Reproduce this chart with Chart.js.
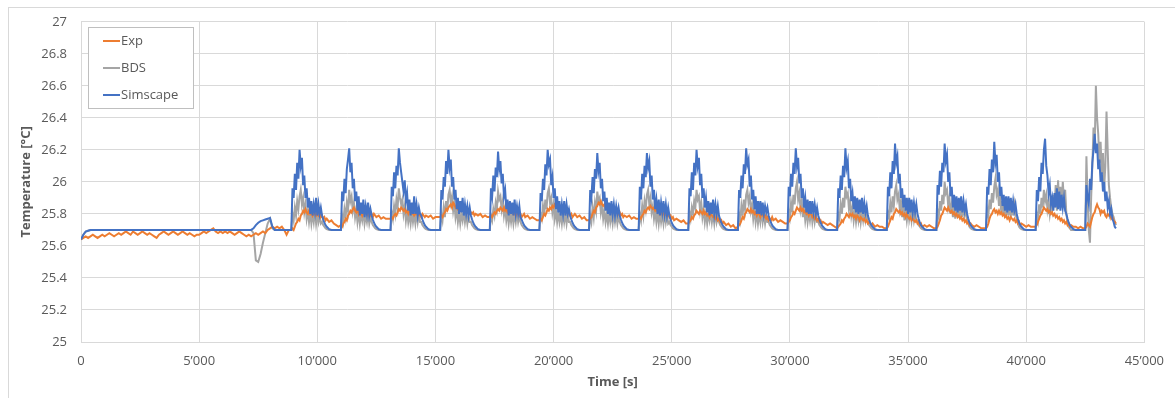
<!DOCTYPE html>
<html>
<head>
<meta charset="utf-8">
<script src="https://cdn.jsdelivr.net/npm/chart.js@4.4.0/dist/chart.umd.min.js"></script>
<style>
  html, body { margin: 0; padding: 0; background: #fff; }
  body { width: 1175px; height: 398px; overflow: hidden; position: relative; }
  .frame { position: absolute; left: 8px; top: 7px; width: 1300px; height: 500px; border: 1px solid #d9d9d9; }
  .chart-box { position: absolute; left: 0; top: 0; width: 1175px; height: 398px; }
</style>
</head>
<body>
<div class="frame"></div>
<div class="chart-box"><canvas id="tempChart" width="1175" height="398"></canvas></div>
<script>
// sample times [s]; start-up phase every 100 s, then one row per heating cycle
// (50 s while the heater is active, 100 s during the cool-down tail)
const timeS = [
  0, 100, 200, 300, 400, 500, 600, 700, 800, 900,
  1000, 1100, 1200, 1300, 1400, 1500, 1600, 1700, 1800, 1900,
  2000, 2100, 2200, 2300, 2400, 2500, 2600, 2700, 2800, 2900,
  3000, 3100, 3200, 3300, 3400, 3500, 3600, 3700, 3800, 3900,
  4000, 4100, 4200, 4300, 4400, 4500, 4600, 4700, 4800, 4900,
  5000, 5100, 5200, 5300, 5400, 5500, 5600, 5700, 5800, 5900,
  6000, 6100, 6200, 6300, 6400, 6500, 6600, 6700, 6800, 6900,
  7000, 7100, 7200, 7300, 7400, 7500, 7600, 7700, 7800, 7900,
  8000, 8100, 8200, 8300, 8400, 8500, 8600, 8700, 8800,
  8900, 8950, 9000, 9050, 9100, 9150, 9200, 9250, 9300, 9350, 9400, 9450, 9500, 9550, 9600, 9650, 9700, 9750, 9800, 9850, 9900, 9950, 10000, 10050, 10100, 10150, 10200, 10250, 10300, 10350, 10400, 10500, 10600, 10700, 10800, 10900,
  11000, 11050, 11100, 11150, 11200, 11250, 11300, 11350, 11400, 11450, 11500, 11550, 11600, 11650, 11700, 11750, 11800, 11850, 11900, 11950, 12000, 12050, 12100, 12150, 12200, 12250, 12300, 12350, 12400, 12450, 12500, 12600, 12700, 12800, 12900, 13000,
  13100, 13150, 13200, 13250, 13300, 13350, 13400, 13450, 13500, 13550, 13600, 13650, 13700, 13750, 13800, 13850, 13900, 13950, 14000, 14050, 14100, 14150, 14200, 14250, 14300, 14350, 14400, 14450, 14500, 14550, 14600, 14700, 14800, 14900, 15000, 15100,
  15200, 15250, 15300, 15350, 15400, 15450, 15500, 15550, 15600, 15650, 15700, 15750, 15800, 15850, 15900, 15950, 16000, 16050, 16100, 16150, 16200, 16250, 16300, 16350, 16400, 16450, 16500, 16550, 16600, 16650, 16700, 16800, 16900, 17000, 17100, 17200,
  17300, 17350, 17400, 17450, 17500, 17550, 17600, 17650, 17700, 17750, 17800, 17850, 17900, 17950, 18000, 18050, 18100, 18150, 18200, 18250, 18300, 18350, 18400, 18450, 18500, 18550, 18600, 18650, 18700, 18750, 18800, 18900, 19000, 19100, 19200, 19300,
  19400, 19450, 19500, 19550, 19600, 19650, 19700, 19750, 19800, 19850, 19900, 19950, 20000, 20050, 20100, 20150, 20200, 20250, 20300, 20350, 20400, 20450, 20500, 20550, 20600, 20650, 20700, 20750, 20800, 20850, 20900, 21000, 21100, 21200, 21300, 21400,
  21500, 21550, 21600, 21650, 21700, 21750, 21800, 21850, 21900, 21950, 22000, 22050, 22100, 22150, 22200, 22250, 22300, 22350, 22400, 22450, 22500, 22550, 22600, 22650, 22700, 22750, 22800, 22850, 22900, 22950, 23000, 23100, 23200, 23300, 23400, 23500,
  23600, 23650, 23700, 23750, 23800, 23850, 23900, 23950, 24000, 24050, 24100, 24150, 24200, 24250, 24300, 24350, 24400, 24450, 24500, 24550, 24600, 24650, 24700, 24750, 24800, 24850, 24900, 24950, 25000, 25050, 25100, 25200, 25300, 25400, 25500, 25600,
  25700, 25750, 25800, 25850, 25900, 25950, 26000, 26050, 26100, 26150, 26200, 26250, 26300, 26350, 26400, 26450, 26500, 26550, 26600, 26650, 26700, 26750, 26800, 26850, 26900, 26950, 27000, 27050, 27100, 27150, 27200, 27300, 27400, 27500, 27600, 27700,
  27800, 27850, 27900, 27950, 28000, 28050, 28100, 28150, 28200, 28250, 28300, 28350, 28400, 28450, 28500, 28550, 28600, 28650, 28700, 28750, 28800, 28850, 28900, 28950, 29000, 29050, 29100, 29150, 29200, 29250, 29300, 29400, 29500, 29600, 29700, 29800,
  29900, 29950, 30000, 30050, 30100, 30150, 30200, 30250, 30300, 30350, 30400, 30450, 30500, 30550, 30600, 30650, 30700, 30750, 30800, 30850, 30900, 30950, 31000, 31050, 31100, 31150, 31200, 31250, 31300, 31350, 31400, 31500, 31600, 31700, 31800, 31900,
  32000, 32050, 32100, 32150, 32200, 32250, 32300, 32350, 32400, 32450, 32500, 32550, 32600, 32650, 32700, 32750, 32800, 32850, 32900, 32950, 33000, 33050, 33100, 33150, 33200, 33250, 33300, 33350, 33400, 33450, 33500, 33600, 33700, 33800, 33900, 34000,
  34100, 34150, 34200, 34250, 34300, 34350, 34400, 34450, 34500, 34550, 34600, 34650, 34700, 34750, 34800, 34850, 34900, 34950, 35000, 35050, 35100, 35150, 35200, 35250, 35300, 35350, 35400, 35450, 35500, 35550, 35600, 35700, 35800, 35900, 36000, 36100,
  36200, 36250, 36300, 36350, 36400, 36450, 36500, 36550, 36600, 36650, 36700, 36750, 36800, 36850, 36900, 36950, 37000, 37050, 37100, 37150, 37200, 37250, 37300, 37350, 37400, 37450, 37500, 37550, 37600, 37650, 37700, 37800, 37900, 38000, 38100, 38200,
  38300, 38350, 38400, 38450, 38500, 38550, 38600, 38650, 38700, 38750, 38800, 38850, 38900, 38950, 39000, 39050, 39100, 39150, 39200, 39250, 39300, 39350, 39400, 39450, 39500, 39550, 39600, 39650, 39700, 39750, 39800, 39900, 40000, 40100, 40200, 40300,
  40400, 40450, 40500, 40550, 40600, 40650, 40700, 40750, 40800, 40850, 40900, 40950, 41000, 41050, 41100, 41150, 41200, 41250, 41300, 41350, 41400, 41450, 41500, 41550, 41600, 41650, 41700, 41750, 41800, 41850, 41900, 42000, 42100, 42200, 42300, 42400,
  42500, 42550, 42600, 42650, 42700, 42750, 42800, 42850, 42900, 42950, 43000, 43050, 43100, 43150, 43200, 43250, 43300, 43350, 43400, 43450, 43500, 43550, 43600, 43650, 43700, 43750, 43800
];

// measured room temperature [°C]
const expTemp = [
  25.64, 25.65, 25.66, 25.65, 25.66, 25.67, 25.66, 25.65, 25.66, 25.67,
  25.66, 25.67, 25.68, 25.67, 25.66, 25.67, 25.68, 25.67, 25.68, 25.69,
  25.68, 25.67, 25.69, 25.68, 25.67, 25.68, 25.69, 25.68, 25.67, 25.68,
  25.67, 25.66, 25.65, 25.67, 25.68, 25.69, 25.68, 25.67, 25.68, 25.69,
  25.68, 25.67, 25.68, 25.69, 25.68, 25.67, 25.68, 25.67, 25.66, 25.67,
  25.67, 25.68, 25.69, 25.68, 25.69, 25.70, 25.71, 25.69, 25.68, 25.69,
  25.68, 25.69, 25.68, 25.69, 25.68, 25.67, 25.68, 25.69, 25.68, 25.67,
  25.66, 25.67, 25.66, 25.67, 25.68, 25.67, 25.68, 25.69, 25.68, 25.70,
  25.71, 25.72, 25.71, 25.72, 25.71, 25.72, 25.70, 25.67, 25.70,
  25.70, 25.71, 25.70, 25.72, 25.74, 25.75, 25.77, 25.76, 25.79, 25.80, 25.82, 25.81, 25.83, 25.81, 25.80, 25.82, 25.80, 25.81, 25.79, 25.81, 25.80, 25.79, 25.81, 25.79, 25.80, 25.78, 25.79, 25.77, 25.78, 25.76, 25.77, 25.75, 25.76, 25.74, 25.73, 25.72,
  25.73, 25.72, 25.74, 25.75, 25.77, 25.76, 25.79, 25.80, 25.82, 25.81, 25.83, 25.84, 25.82, 25.81, 25.83, 25.80, 25.82, 25.81, 25.79, 25.81, 25.80, 25.82, 25.80, 25.79, 25.81, 25.79, 25.80, 25.78, 25.80, 25.79, 25.78, 25.79, 25.77, 25.78, 25.77, 25.77,
  25.77, 25.78, 25.77, 25.79, 25.80, 25.79, 25.81, 25.83, 25.82, 25.84, 25.83, 25.82, 25.83, 25.81, 25.82, 25.80, 25.82, 25.81, 25.80, 25.81, 25.79, 25.80, 25.81, 25.79, 25.80, 25.79, 25.78, 25.80, 25.79, 25.78, 25.79, 25.78, 25.79, 25.77, 25.78, 25.78,
  25.78, 25.79, 25.78, 25.80, 25.81, 25.83, 25.82, 25.84, 25.85, 25.86, 25.84, 25.87, 25.86, 25.84, 25.85, 25.83, 25.84, 25.82, 25.83, 25.84, 25.82, 25.83, 25.81, 25.82, 25.80, 25.82, 25.81, 25.80, 25.81, 25.79, 25.80, 25.79, 25.80, 25.78, 25.79, 25.78,
  25.78, 25.79, 25.78, 25.80, 25.81, 25.80, 25.82, 25.83, 25.82, 25.84, 25.83, 25.82, 25.84, 25.82, 25.83, 25.81, 25.82, 25.83, 25.81, 25.82, 25.80, 25.81, 25.79, 25.81, 25.80, 25.79, 25.80, 25.78, 25.79, 25.80, 25.78, 25.79, 25.77, 25.78, 25.77, 25.76,
  25.76, 25.77, 25.76, 25.78, 25.80, 25.79, 25.81, 25.83, 25.82, 25.84, 25.83, 25.85, 25.84, 25.86, 25.85, 25.84, 25.86, 25.84, 25.83, 25.84, 25.82, 25.83, 25.81, 25.82, 25.80, 25.81, 25.79, 25.80, 25.78, 25.79, 25.80, 25.78, 25.79, 25.77, 25.78, 25.76,
  25.76, 25.77, 25.78, 25.80, 25.82, 25.81, 25.84, 25.85, 25.87, 25.86, 25.88, 25.86, 25.85, 25.86, 25.84, 25.85, 25.83, 25.84, 25.82, 25.83, 25.81, 25.82, 25.80, 25.81, 25.82, 25.80, 25.81, 25.79, 25.80, 25.78, 25.79, 25.78, 25.79, 25.77, 25.78, 25.77,
  25.77, 25.78, 25.77, 25.79, 25.80, 25.82, 25.81, 25.83, 25.84, 25.83, 25.85, 25.84, 25.83, 25.84, 25.82, 25.83, 25.81, 25.82, 25.80, 25.82, 25.80, 25.81, 25.79, 25.80, 25.79, 25.80, 25.78, 25.79, 25.77, 25.78, 25.76, 25.77, 25.76, 25.75, 25.76, 25.74,
  25.74, 25.75, 25.76, 25.78, 25.77, 25.79, 25.80, 25.82, 25.81, 25.80, 25.82, 25.81, 25.80, 25.82, 25.80, 25.81, 25.79, 25.80, 25.78, 25.80, 25.79, 25.78, 25.79, 25.77, 25.78, 25.76, 25.77, 25.75, 25.76, 25.74, 25.75, 25.73, 25.74, 25.72, 25.73, 25.71,
  25.72, 25.73, 25.74, 25.76, 25.78, 25.77, 25.80, 25.81, 25.83, 25.82, 25.81, 25.83, 25.81, 25.82, 25.80, 25.81, 25.79, 25.81, 25.80, 25.78, 25.80, 25.79, 25.78, 25.79, 25.77, 25.78, 25.76, 25.77, 25.76, 25.78, 25.76, 25.77, 25.75, 25.76, 25.75, 25.74,
  25.74, 25.75, 25.76, 25.78, 25.79, 25.81, 25.80, 25.82, 25.84, 25.83, 25.82, 25.84, 25.82, 25.83, 25.81, 25.82, 25.80, 25.81, 25.79, 25.81, 25.80, 25.78, 25.79, 25.77, 25.78, 25.76, 25.77, 25.75, 25.76, 25.74, 25.75, 25.74, 25.73, 25.74, 25.73, 25.72,
  25.71, 25.72, 25.73, 25.74, 25.76, 25.75, 25.77, 25.78, 25.80, 25.79, 25.78, 25.80, 25.79, 25.80, 25.78, 25.79, 25.77, 25.79, 25.78, 25.76, 25.78, 25.77, 25.76, 25.77, 25.75, 25.76, 25.74, 25.75, 25.74, 25.73, 25.74, 25.72, 25.73, 25.72, 25.72, 25.71,
  25.71, 25.72, 25.74, 25.76, 25.78, 25.77, 25.80, 25.81, 25.83, 25.82, 25.81, 25.82, 25.80, 25.81, 25.79, 25.80, 25.78, 25.80, 25.78, 25.77, 25.78, 25.76, 25.77, 25.76, 25.75, 25.76, 25.74, 25.75, 25.73, 25.74, 25.72, 25.73, 25.72, 25.73, 25.72, 25.71,
  25.71, 25.72, 25.74, 25.76, 25.79, 25.80, 25.82, 25.84, 25.83, 25.82, 25.84, 25.82, 25.81, 25.82, 25.80, 25.81, 25.79, 25.80, 25.78, 25.79, 25.77, 25.78, 25.76, 25.77, 25.75, 25.76, 25.74, 25.75, 25.73, 25.74, 25.73, 25.72, 25.73, 25.72, 25.71, 25.71,
  25.71, 25.72, 25.74, 25.77, 25.79, 25.80, 25.82, 25.83, 25.81, 25.82, 25.80, 25.82, 25.80, 25.81, 25.79, 25.80, 25.78, 25.79, 25.77, 25.78, 25.76, 25.78, 25.77, 25.76, 25.77, 25.75, 25.76, 25.74, 25.75, 25.73, 25.74, 25.73, 25.72, 25.73, 25.72, 25.72,
  25.72, 25.73, 25.75, 25.77, 25.79, 25.80, 25.82, 25.84, 25.83, 25.82, 25.83, 25.81, 25.82, 25.80, 25.81, 25.79, 25.80, 25.78, 25.79, 25.77, 25.78, 25.76, 25.77, 25.75, 25.76, 25.74, 25.75, 25.73, 25.74, 25.72, 25.73, 25.72, 25.72, 25.71, 25.72, 25.71,
  25.71, 25.72, 25.74, 25.73, 25.72, 25.75, 25.78, 25.80, 25.81, 25.84, 25.86, 25.84, 25.83, 25.80, 25.82, 25.81, 25.82, 25.79, 25.78, 25.80, 25.79, 25.80, 25.77, 25.78, 25.76, 25.75, 25.74
];

// BDS simulation [°C]
const bdsTemp = [
  25.64, 25.67, 25.69, 25.695, 25.70, 25.70, 25.70, 25.70, 25.70, 25.70,
  25.70, 25.70, 25.70, 25.70, 25.70, 25.70, 25.70, 25.70, 25.70, 25.70,
  25.70, 25.70, 25.70, 25.70, 25.70, 25.70, 25.70, 25.70, 25.70, 25.70,
  25.70, 25.70, 25.70, 25.70, 25.70, 25.70, 25.70, 25.70, 25.70, 25.70,
  25.70, 25.70, 25.70, 25.70, 25.70, 25.70, 25.70, 25.70, 25.70, 25.70,
  25.70, 25.70, 25.70, 25.70, 25.70, 25.70, 25.70, 25.70, 25.70, 25.70,
  25.70, 25.70, 25.70, 25.70, 25.70, 25.70, 25.70, 25.70, 25.70, 25.70,
  25.70, 25.70, 25.70, 25.68, 25.51, 25.50, 25.55, 25.62, 25.68, 25.74,
  25.77, 25.71, 25.70, 25.70, 25.70, 25.70, 25.70, 25.70, 25.70,
  25.70, 25.80, 25.76, 25.84, 25.79, 25.88, 25.83, 25.91, 25.95, 25.86, 25.90, 25.81, 25.86, 25.77, 25.82, 25.75, 25.81, 25.74, 25.80, 25.75, 25.82, 25.74, 25.80, 25.75, 25.79, 25.74, 25.75, 25.73, 25.72, 25.71, 25.705, 25.70, 25.70, 25.70, 25.70, 25.70,
  25.70, 25.79, 25.75, 25.83, 25.78, 25.87, 25.82, 25.95, 25.88, 25.91, 25.82, 25.87, 25.78, 25.83, 25.75, 25.81, 25.74, 25.80, 25.76, 25.82, 25.74, 25.79, 25.75, 25.81, 25.74, 25.78, 25.75, 25.73, 25.72, 25.71, 25.705, 25.70, 25.70, 25.70, 25.70, 25.70,
  25.70, 25.81, 25.77, 25.85, 25.80, 25.89, 25.84, 25.96, 25.90, 25.86, 25.89, 25.80, 25.85, 25.76, 25.82, 25.75, 25.80, 25.74, 25.81, 25.75, 25.80, 25.74, 25.81, 25.75, 25.80, 25.75, 25.75, 25.73, 25.72, 25.71, 25.705, 25.70, 25.70, 25.70, 25.70, 25.70,
  25.70, 25.80, 25.76, 25.84, 25.78, 25.88, 25.82, 25.92, 25.95, 25.87, 25.91, 25.82, 25.87, 25.78, 25.83, 25.75, 25.81, 25.74, 25.80, 25.76, 25.82, 25.75, 25.80, 25.74, 25.79, 25.75, 25.75, 25.73, 25.72, 25.71, 25.705, 25.70, 25.70, 25.70, 25.70, 25.70,
  25.70, 25.79, 25.76, 25.83, 25.79, 25.87, 25.83, 25.94, 25.89, 25.91, 25.83, 25.88, 25.79, 25.84, 25.76, 25.81, 25.74, 25.80, 25.75, 25.81, 25.74, 25.80, 25.75, 25.81, 25.75, 25.79, 25.75, 25.73, 25.72, 25.71, 25.705, 25.70, 25.70, 25.70, 25.70, 25.70,
  25.70, 25.80, 25.77, 25.85, 25.79, 25.89, 25.83, 25.93, 25.96, 25.87, 25.90, 25.81, 25.86, 25.77, 25.82, 25.75, 25.81, 25.75, 25.80, 25.74, 25.81, 25.75, 25.80, 25.74, 25.80, 25.75, 25.75, 25.73, 25.72, 25.71, 25.705, 25.70, 25.70, 25.70, 25.70, 25.70,
  25.70, 25.79, 25.75, 25.84, 25.78, 25.87, 25.82, 25.94, 25.88, 25.90, 25.81, 25.86, 25.77, 25.82, 25.75, 25.80, 25.74, 25.81, 25.75, 25.80, 25.74, 25.81, 25.75, 25.80, 25.74, 25.79, 25.75, 25.73, 25.72, 25.71, 25.705, 25.70, 25.70, 25.70, 25.70, 25.70,
  25.70, 25.80, 25.76, 25.85, 25.79, 25.88, 25.83, 25.92, 25.95, 25.86, 25.90, 25.81, 25.85, 25.77, 25.82, 25.75, 25.81, 25.74, 25.81, 25.75, 25.80, 25.74, 25.81, 25.75, 25.80, 25.74, 25.75, 25.73, 25.72, 25.71, 25.705, 25.70, 25.70, 25.70, 25.70, 25.70,
  25.70, 25.81, 25.77, 25.84, 25.80, 25.88, 25.84, 25.95, 25.89, 25.91, 25.82, 25.87, 25.78, 25.83, 25.75, 25.81, 25.74, 25.80, 25.76, 25.82, 25.75, 25.80, 25.74, 25.81, 25.75, 25.79, 25.75, 25.73, 25.72, 25.71, 25.705, 25.70, 25.70, 25.70, 25.70, 25.70,
  25.70, 25.80, 25.76, 25.85, 25.79, 25.89, 25.83, 25.92, 25.95, 25.87, 25.91, 25.82, 25.86, 25.77, 25.83, 25.75, 25.81, 25.74, 25.80, 25.75, 25.82, 25.75, 25.80, 25.74, 25.79, 25.75, 25.75, 25.73, 25.72, 25.71, 25.705, 25.70, 25.70, 25.70, 25.70, 25.70,
  25.70, 25.82, 25.78, 25.87, 25.81, 25.92, 25.86, 25.96, 26.00, 25.89, 25.93, 25.83, 25.88, 25.78, 25.84, 25.76, 25.82, 25.75, 25.81, 25.76, 25.82, 25.75, 25.81, 25.75, 25.80, 25.75, 25.75, 25.73, 25.72, 25.71, 25.705, 25.70, 25.70, 25.70, 25.70, 25.70,
  25.70, 25.80, 25.77, 25.86, 25.80, 25.90, 25.84, 25.97, 25.91, 25.93, 25.83, 25.88, 25.79, 25.84, 25.76, 25.82, 25.75, 25.81, 25.76, 25.83, 25.75, 25.81, 25.76, 25.82, 25.76, 25.80, 25.75, 25.73, 25.72, 25.71, 25.705, 25.70, 25.70, 25.70, 25.70, 25.70,
  25.70, 25.81, 25.78, 25.87, 25.81, 25.91, 25.85, 25.94, 25.98, 25.89, 25.92, 25.83, 25.88, 25.78, 25.84, 25.76, 25.83, 25.76, 25.82, 25.77, 25.83, 25.76, 25.82, 25.76, 25.81, 25.76, 25.76, 25.73, 25.72, 25.71, 25.705, 25.70, 25.70, 25.70, 25.70, 25.70,
  25.70, 25.82, 25.78, 25.88, 25.82, 25.92, 25.86, 26.00, 25.93, 25.95, 25.85, 25.90, 25.80, 25.86, 25.78, 25.85, 25.77, 25.86, 25.78, 25.87, 25.77, 25.85, 25.78, 25.86, 25.79, 25.83, 25.77, 25.74, 25.72, 25.71, 25.705, 25.70, 25.70, 25.70, 25.70, 25.70,
  25.70, 25.83, 25.79, 25.89, 25.83, 25.93, 25.87, 25.97, 26.02, 25.92, 25.95, 25.85, 25.91, 25.80, 25.88, 25.79, 25.87, 25.78, 25.89, 25.79, 25.88, 25.78, 25.87, 25.79, 25.86, 25.80, 25.77, 25.74, 25.72, 25.71, 25.705, 25.70, 25.70, 25.70, 25.70, 25.70,
  25.70, 25.80, 25.76, 25.86, 25.80, 25.90, 25.84, 25.95, 25.88, 25.92, 25.83, 25.88, 25.80, 25.86, 25.82, 25.92, 25.84, 25.98, 25.82, 26.01, 25.86, 25.97, 25.84, 26.00, 25.88, 25.95, 25.80, 25.75, 25.72, 25.71, 25.70, 25.70, 25.70, 25.70, 25.70, 25.70,
  25.70, 26.16, 25.88, 25.70, 25.62, 25.90, 26.10, 26.34, 26.22, 26.60, 26.40, 26.30, 26.12, 26.25, 26.05, 26.18, 25.96, 26.10, 26.44, 26.20, 25.98, 25.90, 25.84, 25.80, 25.78, 25.75, 25.73
];

// Simscape simulation [°C]
const simscapeTemp = [
  25.64, 25.67, 25.69, 25.695, 25.70, 25.70, 25.70, 25.70, 25.70, 25.70,
  25.70, 25.70, 25.70, 25.70, 25.70, 25.70, 25.70, 25.70, 25.70, 25.70,
  25.70, 25.70, 25.70, 25.70, 25.70, 25.70, 25.70, 25.70, 25.70, 25.70,
  25.70, 25.70, 25.70, 25.70, 25.70, 25.70, 25.70, 25.70, 25.70, 25.70,
  25.70, 25.70, 25.70, 25.70, 25.70, 25.70, 25.70, 25.70, 25.70, 25.70,
  25.70, 25.70, 25.70, 25.70, 25.70, 25.70, 25.70, 25.70, 25.70, 25.70,
  25.70, 25.70, 25.70, 25.70, 25.70, 25.70, 25.70, 25.70, 25.70, 25.70,
  25.70, 25.70, 25.70, 25.71, 25.73, 25.745, 25.755, 25.76, 25.765, 25.77,
  25.775, 25.72, 25.70, 25.70, 25.70, 25.70, 25.70, 25.70, 25.70,
  25.70, 25.96, 25.90, 26.05, 25.95, 26.12, 26.02, 26.20, 26.10, 26.15, 25.98, 26.04, 25.90, 25.96, 25.84, 25.90, 25.80, 25.88, 25.79, 25.86, 25.81, 25.90, 25.79, 25.86, 25.80, 25.84, 25.79, 25.765, 25.745, 25.73, 25.72, 25.705, 25.70, 25.70, 25.70, 25.70,
  25.70, 25.94, 25.88, 26.02, 25.93, 26.08, 26.14, 26.21, 26.06, 26.12, 25.96, 26.02, 25.88, 25.94, 25.82, 25.91, 25.79, 25.87, 25.80, 25.89, 25.78, 25.85, 25.80, 25.87, 25.79, 25.83, 25.79, 25.765, 25.745, 25.73, 25.72, 25.705, 25.70, 25.70, 25.70, 25.70,
  25.70, 25.97, 25.91, 26.06, 25.96, 26.10, 26.04, 26.21, 26.12, 26.06, 26.00, 25.94, 26.01, 25.88, 25.93, 25.82, 25.89, 25.79, 25.87, 25.80, 25.91, 25.80, 25.86, 25.79, 25.84, 25.80, 25.79, 25.765, 25.745, 25.73, 25.72, 25.705, 25.70, 25.70, 25.70, 25.70,
  25.70, 25.95, 25.89, 26.03, 25.97, 26.13, 26.05, 26.20, 26.09, 26.14, 25.97, 26.03, 25.89, 25.95, 25.83, 25.90, 25.80, 25.88, 25.81, 25.90, 25.79, 25.86, 25.80, 25.85, 25.79, 25.84, 25.79, 25.765, 25.745, 25.73, 25.72, 25.705, 25.70, 25.70, 25.70, 25.70,
  25.70, 25.96, 25.91, 26.04, 25.94, 26.09, 26.03, 26.19, 26.08, 26.13, 25.99, 26.05, 25.91, 25.95, 25.83, 25.89, 25.79, 25.88, 25.80, 25.87, 25.79, 25.89, 25.80, 25.85, 25.80, 25.85, 25.78, 25.765, 25.745, 25.73, 25.72, 25.705, 25.70, 25.70, 25.70, 25.70,
  25.70, 25.93, 25.88, 26.02, 25.95, 26.11, 26.04, 26.20, 26.11, 26.14, 25.98, 26.03, 25.90, 25.96, 25.83, 25.91, 25.81, 25.88, 25.79, 25.86, 25.80, 25.88, 25.79, 25.86, 25.80, 25.83, 25.79, 25.765, 25.745, 25.73, 25.72, 25.705, 25.70, 25.70, 25.70, 25.70,
  25.70, 25.95, 25.90, 26.03, 25.93, 26.08, 26.02, 26.18, 26.07, 26.12, 25.96, 26.02, 25.88, 25.94, 25.82, 25.90, 25.80, 25.87, 25.79, 25.88, 25.80, 25.86, 25.79, 25.85, 25.80, 25.84, 25.79, 25.765, 25.745, 25.73, 25.72, 25.705, 25.70, 25.70, 25.70, 25.70,
  25.70, 25.97, 25.89, 26.05, 25.96, 26.10, 26.03, 26.18, 26.09, 26.13, 25.97, 26.04, 25.89, 25.95, 25.83, 25.89, 25.80, 25.89, 25.79, 25.87, 25.81, 25.88, 25.80, 25.86, 25.79, 25.84, 25.79, 25.765, 25.745, 25.73, 25.72, 25.705, 25.70, 25.70, 25.70, 25.70,
  25.70, 25.96, 25.91, 26.06, 25.95, 26.12, 26.04, 26.20, 26.10, 26.15, 25.98, 26.05, 25.90, 25.96, 25.84, 25.90, 25.81, 25.88, 25.79, 25.87, 25.80, 25.89, 25.80, 25.86, 25.80, 25.85, 25.79, 25.765, 25.745, 25.73, 25.72, 25.705, 25.70, 25.70, 25.70, 25.70,
  25.70, 25.95, 25.90, 26.04, 25.96, 26.11, 26.05, 26.21, 26.11, 26.14, 25.97, 26.04, 25.89, 25.95, 25.83, 25.91, 25.80, 25.88, 25.80, 25.88, 25.79, 25.87, 25.80, 25.85, 25.81, 25.84, 25.79, 25.765, 25.745, 25.73, 25.72, 25.705, 25.70, 25.70, 25.70, 25.70,
  25.70, 25.97, 25.91, 26.05, 25.97, 26.12, 26.05, 26.21, 26.10, 26.15, 25.99, 26.05, 25.90, 25.96, 25.84, 25.90, 25.81, 25.89, 25.80, 25.88, 25.80, 25.88, 25.81, 25.86, 25.80, 25.84, 25.79, 25.765, 25.745, 25.73, 25.72, 25.705, 25.70, 25.70, 25.70, 25.70,
  25.70, 25.96, 25.90, 26.04, 25.95, 26.10, 26.03, 26.21, 26.09, 26.13, 25.96, 26.02, 25.88, 25.93, 25.83, 25.91, 25.81, 25.90, 25.80, 25.89, 25.81, 25.90, 25.80, 25.87, 25.81, 25.85, 25.79, 25.765, 25.745, 25.73, 25.72, 25.705, 25.70, 25.70, 25.70, 25.70,
  25.70, 25.97, 25.91, 26.06, 25.96, 26.13, 26.05, 26.24, 26.12, 26.16, 25.99, 26.05, 25.90, 25.96, 25.84, 25.92, 25.82, 25.90, 25.80, 25.90, 25.81, 25.89, 25.81, 25.87, 25.81, 25.86, 25.80, 25.77, 25.745, 25.73, 25.72, 25.705, 25.70, 25.70, 25.70, 25.70,
  25.70, 25.98, 25.92, 26.07, 25.97, 26.12, 26.06, 26.24, 26.13, 26.17, 26.00, 26.06, 25.91, 25.97, 25.84, 25.92, 25.82, 25.91, 25.81, 25.90, 25.82, 25.91, 25.81, 25.88, 25.82, 25.86, 25.80, 25.77, 25.745, 25.73, 25.72, 25.705, 25.70, 25.70, 25.70, 25.70,
  25.70, 25.97, 25.92, 26.08, 25.98, 26.14, 26.06, 26.25, 26.12, 26.17, 26.00, 26.06, 25.91, 25.97, 25.85, 25.92, 25.82, 25.91, 25.81, 25.91, 25.82, 25.90, 25.81, 25.88, 25.82, 25.86, 25.80, 25.77, 25.745, 25.73, 25.72, 25.705, 25.70, 25.70, 25.70, 25.70,
  25.70, 25.95, 25.88, 26.03, 25.94, 26.12, 26.05, 26.20, 26.27, 26.10, 26.04, 25.93, 25.98, 25.86, 25.90, 25.82, 25.93, 25.84, 25.96, 25.83, 25.94, 25.82, 25.92, 25.84, 25.90, 25.82, 25.80, 25.77, 25.745, 25.73, 25.72, 25.705, 25.70, 25.70, 25.70, 25.70,
  25.70, 25.98, 25.90, 25.86, 26.02, 25.95, 26.12, 26.20, 26.30, 26.18, 26.24, 26.08, 26.14, 26.00, 26.06, 25.94, 26.00, 25.88, 25.94, 25.84, 25.88, 25.80, 25.83, 25.77, 25.75, 25.72, 25.71
];

const timeTickLabels = ['0', '5’000', '10’000', '15’000', '20’000', '25’000', '30’000', '35’000', '40’000', '45’000'];
const tempTickLabels = ['25', '25.2', '25.4', '25.6', '25.8', '26', '26.2', '26.4', '26.6', '26.8', '27'];

const seriesNames = ['Exp', 'BDS', 'Simscape'];
const seriesColors = ['#ED7D31', '#A5A5A5', '#4472C4'];

Chart.defaults.font.family = "'Open Sans', sans-serif";
Chart.defaults.color = '#595959';

const toPoints = (values) => values.map((v, i) => ({ x: timeS[i], y: v }));

// legend box inside the plot area, top left
const boxLegend = {
  id: 'boxLegend',
  afterDraw(chart) {
    const ctx = chart.ctx;
    ctx.save();
    ctx.fillStyle = '#ffffff';
    ctx.fillRect(88.5, 27.5, 105, 81);
    ctx.strokeStyle = '#bfbfbf';
    ctx.lineWidth = 1;
    ctx.strokeRect(88.5, 27.5, 105, 81);
    ctx.font = "13px 'Open Sans', sans-serif";
    ctx.textBaseline = 'middle';
    seriesNames.forEach((name, i) => {
      const y = 41 + i * 27;
      ctx.strokeStyle = seriesColors[i];
      ctx.lineWidth = 2;
      ctx.beginPath();
      ctx.moveTo(103, y);
      ctx.lineTo(120, y);
      ctx.stroke();
      ctx.fillStyle = '#595959';
      ctx.fillText(name, 121, y);
    });
    ctx.restore();
  }
};

const ctx = document.getElementById('tempChart').getContext('2d');
new Chart(ctx, {
  type: 'line',
  data: {
    datasets: [
      { label: seriesNames[0], data: toPoints(expTemp), borderColor: seriesColors[0], order: 1 },
      { label: seriesNames[1], data: toPoints(bdsTemp), borderColor: seriesColors[1], order: 2 },
      { label: seriesNames[2], data: toPoints(simscapeTemp), borderColor: seriesColors[2], order: 0 },
    ],
  },
  options: {
    responsive: false,
    animation: false,
    events: [],
    layout: { padding: { left: 0, top: 20, right: 20, bottom: 0 } },
    elements: {
      point: { radius: 0 },
      line: { borderWidth: 2, tension: 0 },
    },
    plugins: {
      legend: { display: false },
      tooltip: { enabled: false },
    },
    scales: {
      x: {
        type: 'linear',
        min: 0,
        max: 45000,
        afterFit: (scale) => { scale.height = 56; },
        ticks: {
          stepSize: 5000,
          padding: 11,
          maxRotation: 0,
          font: { size: 13 },
          callback: (value, index) => timeTickLabels[index],
        },
        grid: { color: '#d9d9d9', drawTicks: false },
        border: { color: '#d9d9d9' },
        title: {
          display: true,
          text: 'Time [s]',
          font: { size: 13, weight: 'bold' },
          padding: { top: 0, bottom: 8 },
        },
      },
      y: {
        min: 25,
        max: 27,
        afterFit: (scale) => { scale.width = 81; },
        ticks: {
          stepSize: 0.2,
          padding: 14,
          font: { size: 13 },
          callback: (value, index) => tempTickLabels[index],
        },
        grid: { color: '#d9d9d9', drawTicks: false },
        border: { color: '#d9d9d9' },
        title: {
          display: true,
          text: 'Temperature [°C]',
          font: { size: 13, weight: 'bold' },
          padding: { top: 18, bottom: 0 },
        },
      },
    },
  },
  plugins: [boxLegend],
});
</script>
</body>
</html>
